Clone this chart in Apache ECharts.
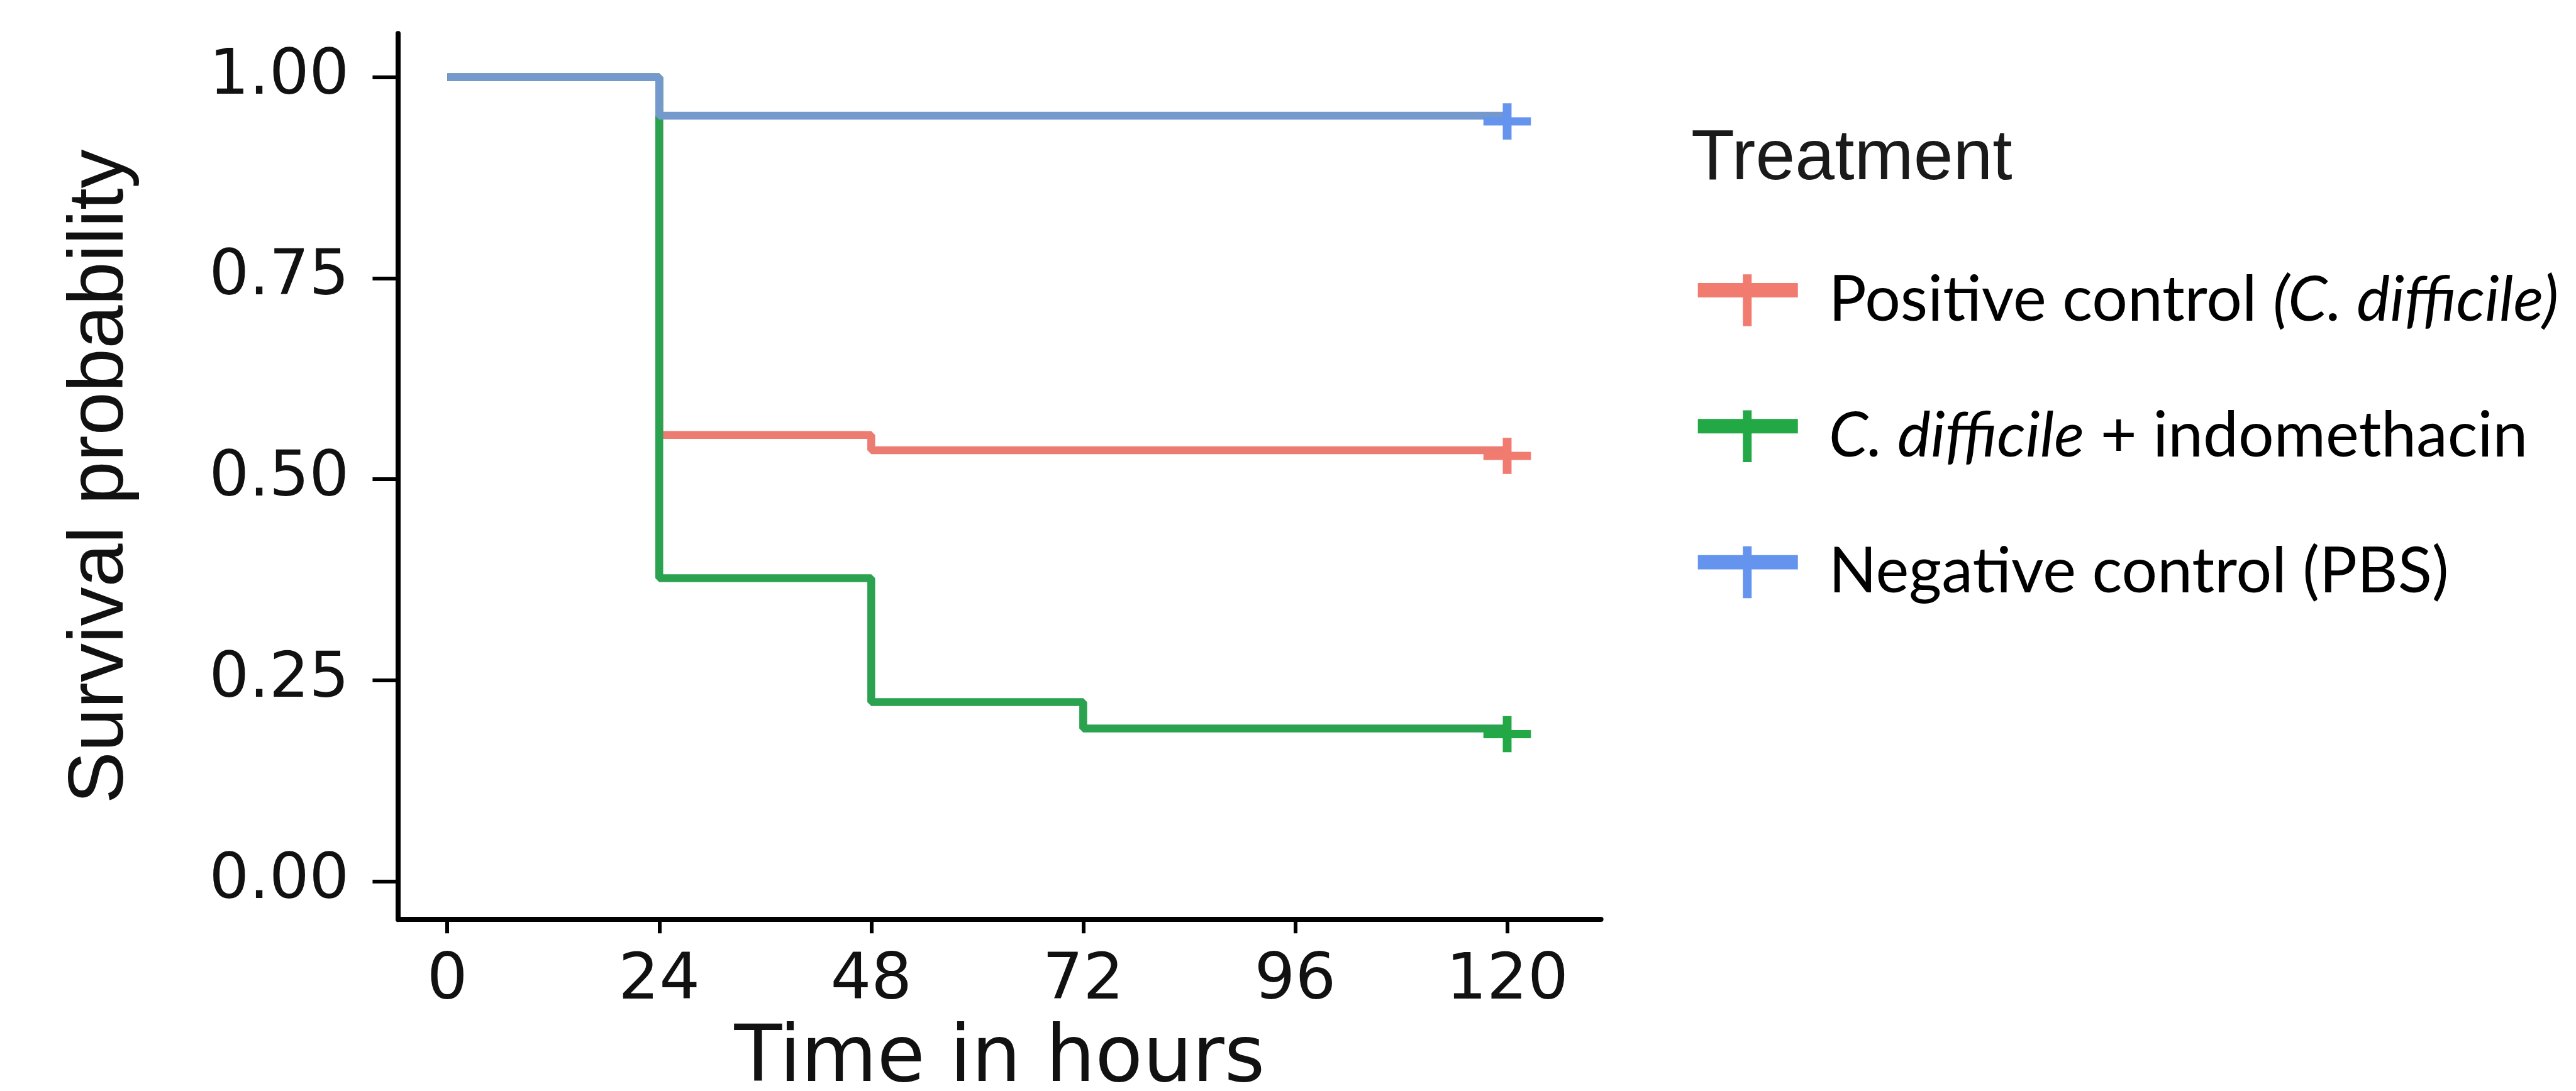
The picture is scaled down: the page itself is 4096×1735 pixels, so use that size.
<!DOCTYPE html>
<html>
<head>
<meta charset="utf-8">
<script src="https://cdn.jsdelivr.net/npm/echarts@6/dist/echarts.min.js"></script>
<style>
html,body{margin:0;padding:0;background:#fff;}
#chart{width:4096px;height:1735px;}
</style>
</head>
<body>
<div id="chart"></div>
<script>
// ---- data ----
const timeTicks = [0, 24, 48, 72, 96, 120];
const probTicks = [0, 0.25, 0.5, 0.75, 1];
const seriesNames = ['Positive control (C. difficile)', 'C. difficile + indomethacin', 'Negative control (PBS)'];
const posTimes = [0, 24, 48, 120];
const posSurv = [1, 0.555, 0.536, 0.536];
const indoTimes = [0, 24, 48, 72, 120];
const indoSurv = [1, 0.377, 0.223, 0.19, 0.19];
const negTimes = [0, 24, 120];
const negSurv = [1, 0.952, 0.952];
const xTitle = 'Time in hours';
const yTitle = 'Survival probability';
const legendTitle = 'Treatment';

// ---- styles ----
const k = 0.994;
const lineColors = ['#EC7B71', '#2BA24F', '#7499CC'];
const markColors = ['#F27B70', '#22A844', '#6494EE'];
const crossPath = 'path://M31,0h14v22.5h31v13h-31v22.5h-14v-22.5h-31v-13h31z';
const legendIcon = 'path://M0,14H160V37H0Z M72,0H86V83H72Z';

function buildData(times, surv, ci) {
  return times.map(function (t, i) {
    if (i === times.length - 1) {
      return {
        value: [t, surv[i]],
        symbol: crossPath,
        symbolSize: [76 * k, 58 * k],
        symbolOffset: [0, 9 * k],
        itemStyle: { color: markColors[ci], borderWidth: 0 }
      };
    }
    return [t, surv[i]];
  });
}

const allTimes = [posTimes, indoTimes, negTimes];
const allSurv = [posSurv, indoSurv, negSurv];

const series = seriesNames.map(function (name, i) {
  return {
    name: name,
    type: 'line',
    step: 'end',
    symbol: 'none',
    showSymbol: true,
    data: buildData(allTimes[i], allSurv[i], i),
    lineStyle: { color: lineColors[i], width: 12.5 },
    itemStyle: { color: lineColors[i], borderWidth: 0 },
    emphasis: { disabled: true },
    z: 2 + i
  };
});

const legendFmt = {};
legendFmt[seriesNames[0]] = '{a|Positive control }{i|(C. difficile)}';
legendFmt[seriesNames[1]] = '{ai|C. difficile}{b| + indomethacin}';
legendFmt[seriesNames[2]] = '{a|Negative control (PBS)}';

const legFont = 'Lato';
const legSize = 100;
const padL = 44;

const gridLeft = 637 * k, gridTop = 53.6 * k;
const gridRight = 2561 * k, gridBottom = 1471 * k;

const option = {
  backgroundColor: '#ffffff',
  animation: false,
  title: {
    text: legendTitle,
    left: 2689,
    top: 197,
    padding: 0,
    textStyle: { fontFamily: 'Liberation Sans', fontSize: 113, fontWeight: 'normal', color: '#1a1a1a' }
  },
  legend: {
    orient: 'vertical',
    left: 2716 * k,
    top: 427.4,
    padding: 0,
    itemWidth: 160 * k,
    itemHeight: 83 * k,
    itemGap: 116.3,
    selectedMode: false,
    itemStyle: { borderWidth: 0 },
    data: seriesNames.map(function (n, i) {
      return { name: n, icon: legendIcon, itemStyle: { color: markColors[i], borderWidth: 0 } };
    }),
    formatter: function (name) { return legendFmt[name]; },
    textStyle: {
      fontFamily: legFont,
      fontSize: legSize,
      color: '#000',
      rich: {
        a: { fontFamily: legFont, fontSize: legSize, color: '#000', padding: [0, 0, 0, padL], lineHeight: 80 },
        b: { fontFamily: legFont, fontSize: legSize, color: '#000', lineHeight: 80 },
        ai: { fontFamily: legFont, fontSize: legSize, fontStyle: 'italic', color: '#000', padding: [0, 0, 0, padL], lineHeight: 80 },
        i: { fontFamily: legFont, fontSize: legSize, fontStyle: 'italic', color: '#000', lineHeight: 80 }
      }
    }
  },
  grid: {
    left: gridLeft,
    top: gridTop,
    width: gridRight - gridLeft,
    height: gridBottom - gridTop,
    containLabel: false,
    outerBoundsMode: 'none'
  },
  xAxis: {
    type: 'value',
    min: -5.556,
    max: 130.62,
    name: xTitle,
    nameLocation: 'middle',
    nameGap: 162.5,
    nameTextStyle: { fontFamily: 'DejaVu Sans', fontSize: 124, color: '#111' },
    splitLine: { show: false },
    axisLine: { show: true, onZero: false, lineStyle: { color: '#000', width: 8 } },
    axisTick: { show: true, length: 22, customValues: timeTicks, lineStyle: { color: '#000', width: 6 } },
    axisLabel: {
      customValues: timeTicks,
      margin: 48.2,
      fontFamily: 'DejaVu Sans',
      fontSize: 102,
      color: '#111',
      formatter: function (v) { return String(v); }
    }
  },
  yAxis: {
    type: 'value',
    min: -0.0474,
    max: 1.0543,
    name: yTitle,
    nameLocation: 'middle',
    nameGap: 410,
    nameTextStyle: { fontFamily: 'Liberation Sans', fontSize: 124, color: '#111' },
    splitLine: { show: false },
    axisLine: { show: true, onZero: false, lineStyle: { color: '#000', width: 8 } },
    axisTick: { show: true, length: 41 * k, customValues: probTicks, lineStyle: { color: '#000', width: 6 } },
    axisLabel: {
      customValues: probTicks,
      margin: 78,
      fontFamily: 'DejaVu Sans',
      fontSize: 100,
      color: '#111',
      formatter: function (v) { return v.toFixed(2); }
    }
  },
  series: series
};

const chart = echarts.init(document.getElementById('chart'), null, { renderer: 'canvas' });
chart.setOption(option);
</script>
</body>
</html>
